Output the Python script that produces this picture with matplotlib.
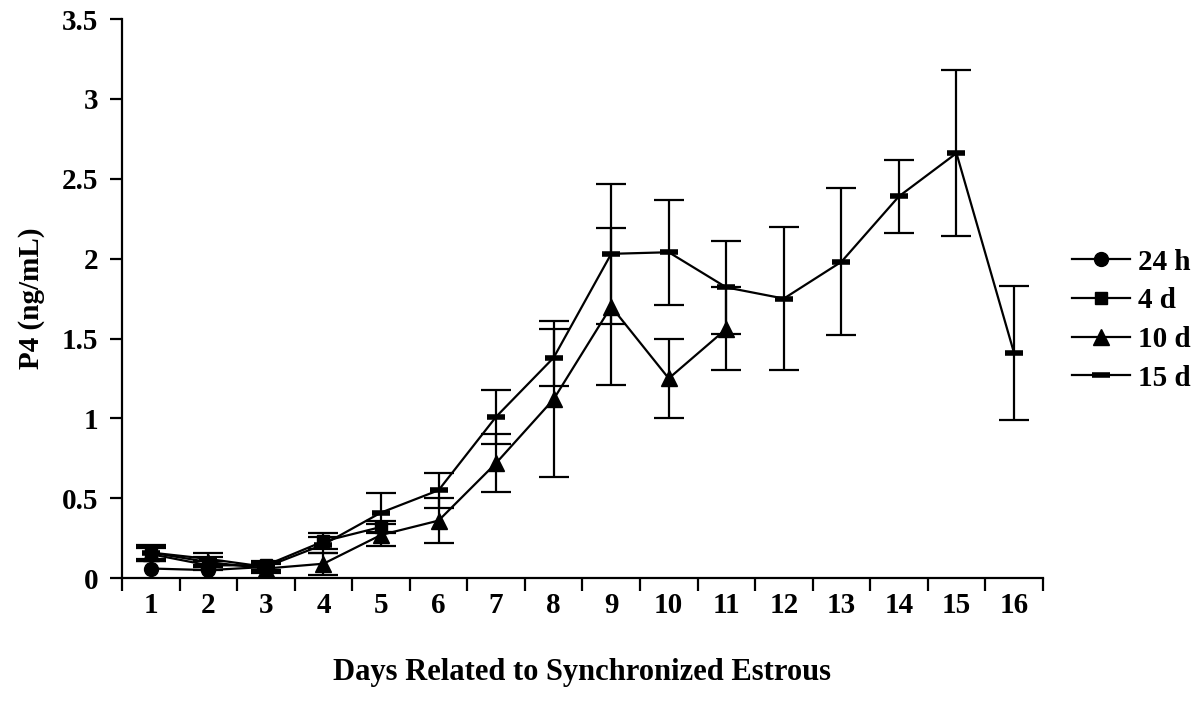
import numpy as np
import matplotlib.pyplot as plt

# values (P4, ng/mL), days related to synchronized estrous
days_24h = [1, 2, 3]
p4_24h = [0.06, 0.05, 0.07]

days_4d = [1, 2, 3, 4, 5]
p4_4d = [0.15, 0.08, 0.08, 0.23, 0.32]
err_4d = [0.04, 0.03, 0.03, 0.05, 0.04]

days_10d = [1, 2, 3, 4, 5, 6, 7, 8, 9, 10, 11]
p4_10d = [0.16, 0.10, 0.06, 0.09, 0.27, 0.36, 0.72, 1.12, 1.70, 1.25, 1.56]
err_10d = [0.04, 0.03, 0.03, 0.07, 0.07, 0.14, 0.18, 0.49, 0.49, 0.25, 0.26]

days_15d = list(range(1, 17))
p4_15d = [0.16, 0.12, 0.07, 0.21, 0.41, 0.55, 1.01, 1.38, 2.03, 2.04, 1.82, 1.75,
          1.98, 2.39, 2.66, 1.41]
err_15d = [0.05, 0.04, 0.03, 0.05, 0.12, 0.11, 0.17, 0.18, 0.44, 0.33, 0.29, 0.45,
           0.46, 0.23, 0.52, 0.42]

plt.rcParams['font.family'] = ['Liberation Serif', 'DejaVu Serif']
plt.rcParams['font.weight'] = 'bold'

fig = plt.figure(figsize=(12, 7.05), dpi=100)
ax = fig.add_axes([0.1017, 0.180, 0.7673, 0.793])

# error bars first (no markers), then lines + markers on top
eb = dict(fmt='none', ecolor='black', elinewidth=1.6, capsize=11, capthick=1.6)
ax.errorbar(days_4d, p4_4d, yerr=err_4d, **eb)
ax.errorbar(days_10d, p4_10d, yerr=err_10d, **eb)
ax.errorbar(days_15d, p4_15d, yerr=err_15d, **eb)

ax.plot(days_24h, p4_24h, color='black', lw=1.6, marker='o', ms=10, label='24 h')
ax.plot(days_4d, p4_4d, color='black', lw=1.6, marker='s', ms=9, label='4 d')
ax.plot(days_10d, p4_10d, color='black', lw=1.6, marker='^', ms=11, label='10 d')
ax.plot(days_15d, p4_15d, color='black', lw=1.6, marker='_', ms=13, mew=4, label='15 d')

ax.set_xlim(0.5, 16.5)
ax.set_ylim(0, 3.5)
ax.set_yticks(np.arange(0, 3.51, 0.5))
ax.set_yticklabels(['0', '0.5', '1', '1.5', '2', '2.5', '3', '3.5'])
ax.set_xticks(np.arange(0.5, 17, 1))
ax.set_xticklabels([])
ax.set_xticks(days_15d, minor=True)
ax.set_xticklabels([str(d) for d in days_15d], minor=True)
ax.tick_params(axis='x', which='major', direction='out', length=9, width=1.6)
ax.tick_params(axis='x', which='minor', length=0, pad=10, labelsize=21)
ax.tick_params(axis='y', direction='out', length=9, width=1.6, labelsize=21, pad=8)

for s in ['top', 'right']:
    ax.spines[s].set_visible(False)
for s in ['left', 'bottom']:
    ax.spines[s].set_linewidth(1.6)

ax.set_xlabel('Days Related to Synchronized Estrous', fontsize=22, fontweight='bold', labelpad=28)
ax.set_ylabel('P4 (ng/mL)', fontsize=21, fontweight='bold', labelpad=12)

leg = fig.legend(loc='center left', bbox_to_anchor=(1072 / 1200, 1 - 320 / 705), frameon=False,
                 fontsize=21, handlelength=2.0, labelspacing=0.4, handletextpad=0.25,
                 borderpad=0, borderaxespad=0)
for t in leg.get_texts():
    t.set_fontweight('bold')

fig.savefig('out.png', dpi=100)
